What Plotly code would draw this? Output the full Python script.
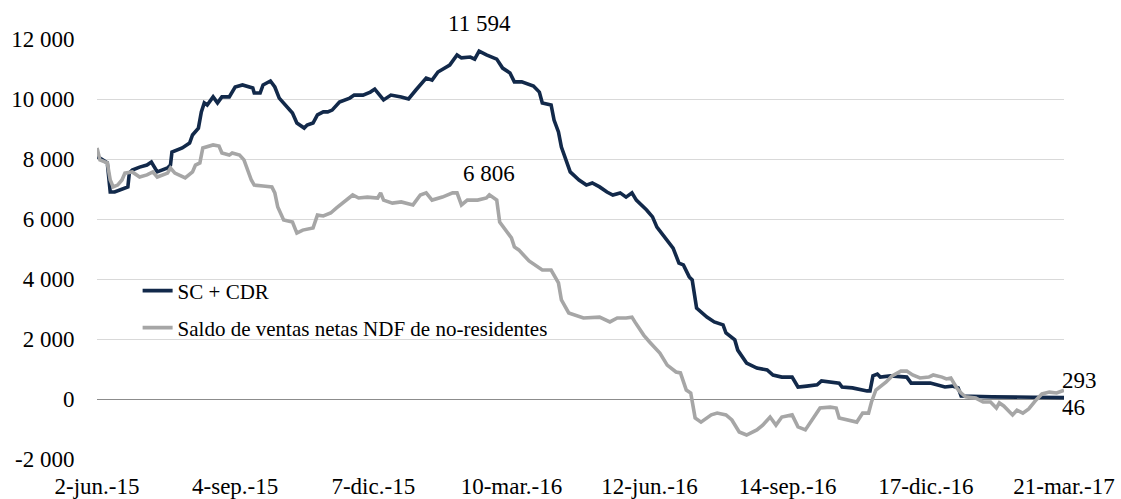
import plotly.graph_objects as go

# ---- data ----
sc_dates = ["2015-06-02","2015-06-04","2015-06-09","2015-06-11","2015-06-14","2015-06-18","2015-06-23","2015-06-24",
            "2015-06-26","2015-07-01","2015-07-06","2015-07-09","2015-07-11","2015-07-13","2015-07-20","2015-07-22",
            "2015-07-23","2015-07-30","2015-08-04","2015-08-06","2015-08-10","2015-08-12","2015-08-14","2015-08-16",
            "2015-08-20","2015-08-23","2015-08-26","2015-08-31","2015-09-04","2015-09-09","2015-09-16","2015-09-17",
            "2015-09-21","2015-09-23","2015-09-28","2015-10-01","2015-10-04","2015-10-09","2015-10-13","2015-10-16",
            "2015-10-21","2015-10-23","2015-10-27","2015-10-30","2015-11-03","2015-11-06","2015-11-09","2015-11-14",
            "2015-11-21","2015-11-24","2015-11-30","2015-12-05","2015-12-08","2015-12-14","2015-12-19","2015-12-26",
            "2015-12-31","2016-01-05","2016-01-12","2016-01-16","2016-01-20","2016-01-28","2016-02-02","2016-02-05",
            "2016-02-11","2016-02-14","2016-02-17","2016-02-22","2016-02-29","2016-03-04","2016-03-09","2016-03-12",
            "2016-03-17","2016-03-25","2016-03-29","2016-03-31","2016-04-06","2016-04-08","2016-04-11","2016-04-13",
            "2016-04-16","2016-04-19","2016-04-25","2016-04-30","2016-05-04","2016-05-09","2016-05-14","2016-05-18",
            "2016-05-23","2016-05-27","2016-05-31","2016-06-03","2016-06-10","2016-06-14","2016-06-17","2016-06-24",
            "2016-06-28","2016-07-02","2016-07-05","2016-07-09","2016-07-11","2016-07-14","2016-07-21","2016-07-26",
            "2016-08-01","2016-08-03","2016-08-09","2016-08-11","2016-08-17","2016-08-24","2016-08-31","2016-09-04",
            "2016-09-10","2016-09-17","2016-09-21","2016-09-27","2016-10-04","2016-10-07","2016-10-13","2016-10-19",
            "2016-10-21","2016-10-28","2016-11-07","2016-11-09","2016-11-11","2016-11-14","2016-11-16","2016-11-23",
            "2016-12-04","2016-12-07","2016-12-20","2016-12-26","2016-12-30","2017-01-04","2017-01-08","2017-01-10",
            "2017-01-14","2017-01-31","2017-02-28","2017-03-21"]
sc_values = [8070,8030,7870,6900,6900,6970,7070,7530,
             7630,7730,7800,7900,7730,7570,7700,7800,
             8230,8370,8530,8800,9030,9570,9870,9800,
             10070,9870,10070,10070,10400,10470,10370,10200,
             10200,10470,10600,10400,10030,9730,9530,9200,
             9030,9130,9200,9470,9570,9570,9630,9900,
             10030,10130,10130,10230,10330,9970,10130,10070,
             10000,10300,10700,10630,10900,11130,11470,11370,
             11400,11330,11594,11470,11330,11030,10870,10570,
             10570,10430,10230,9870,9800,9300,8900,8400,
             7970,7570,7300,7130,7200,7070,6900,6800,
             6870,6730,6870,6630,6300,6070,5730,5300,
             5030,4530,4470,4070,3970,3030,2730,2570,
             2470,2200,1970,1630,1200,1030,970,800,
             730,730,400,430,470,600,570,530,
             400,370,270,270,770,830,730,770,
             730,530,530,470,400,430,370,100,
             100,70,60,46]

ndf_dates = ["2015-06-02","2015-06-04","2015-06-09","2015-06-11","2015-06-13","2015-06-16","2015-06-19","2015-06-21",
             "2015-06-26","2015-07-01","2015-07-06","2015-07-10","2015-07-13","2015-07-20","2015-07-22","2015-07-25",
             "2015-08-01","2015-08-06","2015-08-08","2015-08-11","2015-08-13","2015-08-16","2015-08-20","2015-08-24",
             "2015-08-26","2015-08-31","2015-09-02","2015-09-07","2015-09-10","2015-09-15","2015-09-17","2015-09-23",
             "2015-09-29","2015-10-01","2015-10-03","2015-10-07","2015-10-13","2015-10-16","2015-10-20","2015-10-27",
             "2015-10-30","2015-11-03","2015-11-08","2015-11-12","2015-11-19","2015-11-23","2015-11-27","2015-12-03",
             "2015-12-10","2015-12-12","2015-12-14","2015-12-20","2015-12-26","2016-01-03","2016-01-08","2016-01-12",
             "2016-01-16","2016-01-23","2016-01-30","2016-02-02","2016-02-05","2016-02-09","2016-02-16","2016-02-22",
             "2016-02-24","2016-02-29","2016-03-02","2016-03-06","2016-03-10","2016-03-12","2016-03-15","2016-03-22",
             "2016-03-31","2016-04-06","2016-04-11","2016-04-13","2016-04-18","2016-04-28","2016-05-05","2016-05-09",
             "2016-05-16","2016-05-21","2016-05-27","2016-05-31","2016-06-02","2016-06-08","2016-06-12","2016-06-19",
             "2016-06-24","2016-06-30","2016-07-03","2016-07-07","2016-07-10","2016-07-13","2016-07-17","2016-07-24",
             "2016-07-28","2016-08-03","2016-08-07","2016-08-12","2016-08-17","2016-08-24","2016-08-28","2016-09-02",
             "2016-09-06","2016-09-10","2016-09-17","2016-09-21","2016-09-26","2016-09-29","2016-10-06","2016-10-13",
             "2016-10-17","2016-10-19","2016-10-26","2016-10-31","2016-11-04","2016-11-08","2016-11-10","2016-11-13",
             "2016-11-20","2016-11-24","2016-11-30","2016-12-04","2016-12-08","2016-12-13","2016-12-19","2016-12-22",
             "2016-12-28","2016-12-31","2017-01-03","2017-01-05","2017-01-07","2017-01-10","2017-01-13","2017-01-20",
             "2017-01-25","2017-01-30","2017-02-03","2017-02-05","2017-02-08","2017-02-14","2017-02-17","2017-02-21",
             "2017-02-25","2017-03-02","2017-03-06","2017-03-11","2017-03-16","2017-03-21"]
ndf_values = [8370,7970,7870,7300,7070,7130,7300,7530,
              7570,7400,7470,7570,7400,7530,7700,7530,
              7370,7570,7800,7870,8370,8400,8470,8430,
              8200,8130,8200,8130,7970,7300,7130,7100,
              7070,6870,6400,5970,5900,5530,5630,5700,
              6130,6100,6200,6370,6630,6800,6700,6730,
              6700,6870,6630,6530,6570,6470,6800,6870,
              6630,6730,6870,6870,6470,6630,6630,6700,
              6806,6630,5900,5630,5370,5070,4970,4600,
              4300,4300,3870,3300,2870,2700,2730,2730,
              2570,2700,2700,2730,2570,2130,1900,1530,
              1130,900,870,300,200,-630,-770,-530,
              -470,-530,-700,-1100,-1200,-1030,-870,-600,
              -870,-600,-530,-930,-1030,-800,-300,-270,
              -300,-630,-700,-770,-470,-470,-100,300,
              570,770,930,930,800,700,730,800,
              730,670,700,530,370,200,70,30,
              -100,-100,-300,-130,-230,-530,-370,-470,
              -330,-30,170,230,200,293]

series_names = ["SC + CDR", "Saldo de ventas netas NDF de no-residentes"]

x_tick_vals = ["2015-06-02","2015-09-04","2015-12-07","2016-03-10","2016-06-12","2016-09-14","2016-12-17","2017-03-21"]
x_tick_text = ["2-jun.-15","4-sep.-15","7-dic.-15","10-mar.-16","12-jun.-16","14-sep.-16","17-dic.-16","21-mar.-17"]
y_tick_vals = [-2000, 0, 2000, 4000, 6000, 8000, 10000, 12000]
y_tick_text = ["-2 000", "0", "2 000", "4 000", "6 000", "8 000", "10 000", "12 000"]

peak_labels = [("2016-02-17", 11594, "11 594", 28), ("2016-02-24", 6806, "6 806", 21)]
end_labels = [("2017-03-21", 293, "293", 10), ("2017-03-21", 46, "46", -10)]

NAVY = "#12294a"
GRAY = "#a6a6a6"
FONT = "Liberation Serif, Times New Roman, serif"
FS = 23

fig = go.Figure()
fig.add_trace(go.Scatter(x=sc_dates, y=sc_values, mode="lines", name=series_names[0],
                         line=dict(color=NAVY, width=3.6), legend="legend"))
fig.add_trace(go.Scatter(x=ndf_dates, y=ndf_values, mode="lines", name=series_names[1],
                         line=dict(color=GRAY, width=3.6), legend="legend2"))

for (xd, yv, txt, sh) in peak_labels:
    fig.add_annotation(x=xd, y=yv, text=txt, showarrow=False, yanchor="middle", yshift=sh,
                       font=dict(family=FONT, size=FS, color="#000000"))
for (xd, yv, txt, sh) in end_labels:
    fig.add_annotation(x=xd, y=yv, text=txt, showarrow=False, xanchor="left", yanchor="middle",
                       xshift=-4, yshift=sh, font=dict(family=FONT, size=FS, color="#000000"))

legend_common = dict(bgcolor="rgba(0,0,0,0)", font=dict(family=FONT, size=21, color="#000000"),
                     xanchor="left", yanchor="middle", itemwidth=30, borderwidth=0)
fig.update_layout(
    width=1121, height=499,
    margin=dict(l=97, r=57, t=39, b=40, autoexpand=False),
    paper_bgcolor="white", plot_bgcolor="white",
    font=dict(family=FONT, size=FS, color="#000000"),
    showlegend=True,
    legend=dict(x=0.042, y=1 - (291 - 39) / 420, **legend_common),
    legend2=dict(x=0.042, y=1 - (328 - 39) / 420, **legend_common),
    xaxis=dict(type="date", range=["2015-06-02", "2017-03-21"], tickvals=x_tick_vals, ticktext=x_tick_text,
               showgrid=False, zeroline=False, showline=False, ticks="outside", ticklen=6,
               tickcolor="rgba(0,0,0,0)", automargin=False,
               tickfont=dict(family=FONT, size=FS, color="#000000")),
    yaxis=dict(range=[-2000, 12000], tickvals=y_tick_vals, ticktext=y_tick_text,
               showgrid=True, gridcolor="#d9d9d9", gridwidth=1.3,
               zeroline=True, zerolinecolor="#8c8c8c", zerolinewidth=1.2, showline=False,
               ticks="outside", ticklen=17, tickcolor="rgba(0,0,0,0)", automargin=False,
               tickfont=dict(family=FONT, size=FS, color="#000000")),
)

fig.write_html("out.html", config={"displayModeBar": False},
               post_script="document.body.style.margin='0';document.body.style.overflow='hidden';")
